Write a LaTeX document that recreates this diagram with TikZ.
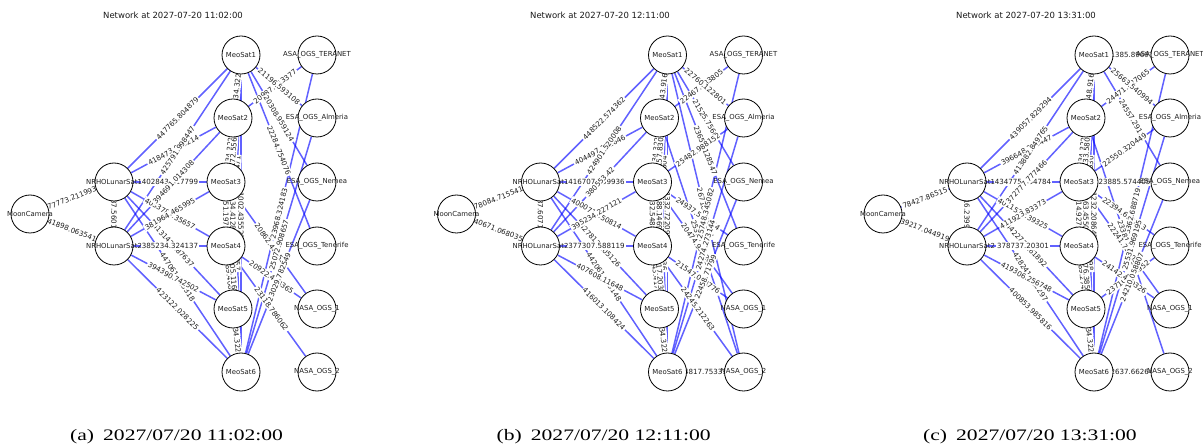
\documentclass[tikz,border=0pt]{standalone}
\usepackage{fontspec}
\setmainfont{DejaVu Sans}
\newfontfamily\capfont[FakeStretch=1.35]{Liberation Serif}
\pgfdeclarelayer{links}
\pgfdeclarelayer{tags}
\pgfsetlayers{links,tags,main}

\tikzset{
  link/.style={draw=blue, draw opacity=0.62, line width=1.5pt},
  elbl/.style={font=\fontsize{7.1}{8}\selectfont, fill=white, inner sep=1.2pt,
               text=black!88, sloped, midway},
  sat/.style={circle, draw=black, line width=0.8pt, fill=white,
              minimum size=38pt, inner sep=0pt},
  nlbl/.style={font=\fontsize{6.9}{8}\selectfont, text=black!88, inner sep=0pt},
  ttl/.style={font=\fontsize{8.5}{10}\selectfont, text=black!90},
  captxt/.style={font=\capfont\fontsize{16}{18}\selectfont, anchor=base west, inner sep=0pt},
}

% one link: the line on the bottom layer, its length label above all lines
\newcommand\lnk[3]{%
  \begin{pgfonlayer}{links}\draw[link] (\pp#1) -- (\pp#2);\end{pgfonlayer}%
  \begin{pgfonlayer}{tags}\path (\pp#1) -- (\pp#2) node[elbl] {#3};\end{pgfonlayer}}

% the fifteen nodes of one snapshot; #1 name prefix, #2 horizontal offset
\newcommand\placenodes[2]{%
  \begin{scope}[xshift=#2]
    \node[sat,label={[nlbl]center:MeoSat1}] (#1M1) at (241,55) {};
    \node[sat,label={[nlbl]center:ASA\_OGS\_TERANET}] (#1AT) at (317,55) {};
    \node[sat,label={[nlbl]center:MeoSat2}] (#1M2) at (233,118) {};
    \node[sat,label={[nlbl]center:ESA\_OGS\_Almeria}] (#1AL) at (317,118) {};
    \node[sat,label={[nlbl]center:NRHOLunarSat1}] (#1L1) at (114,182) {};
    \node[sat,label={[nlbl]center:MeoSat3}] (#1M3) at (226,182) {};
    \node[sat,label={[nlbl]center:ESA\_OGS\_Nemea}] (#1NE) at (317,182) {};
    \node[sat,label={[nlbl]center:MoonCamera}] (#1MC) at (30,214) {};
    \node[sat,label={[nlbl]center:NRHOLunarSat2}] (#1L2) at (114,246) {};
    \node[sat,label={[nlbl]center:MeoSat4}] (#1M4) at (226,246) {};
    \node[sat,label={[nlbl]center:ESA\_OGS\_Tenerife}] (#1TE) at (317,246) {};
    \node[sat,label={[nlbl]center:MeoSat5}] (#1M5) at (233,309) {};
    \node[sat,label={[nlbl]center:NASA\_OGS\_1}] (#1N1) at (317,309) {};
    \node[sat,label={[nlbl]center:MeoSat6}] (#1M6) at (241,372) {};
    \node[sat,label={[nlbl]center:NASA\_OGS\_2}] (#1N2) at (317,372) {};
  \end{scope}}

\begin{document}
\begin{tikzpicture}[x=1pt,y=-1pt]
\useasboundingbox (0,0) rectangle (1203,446);

% ---------------- snapshot (a) ----------------
\node[ttl] (ta) at (173,15.5) {Network at 2027-07-20 11:02:00};
\placenodes{a}{0}
\def\pp{a}
\lnk{MC}{L1}{77773.211993}
\lnk{MC}{L2}{41898.063541}
\lnk{L1}{L2}{4237.560118}
\lnk{L1}{M1}{447765.804879}
\lnk{L1}{M2}{418473.950214}
\lnk{L1}{M3}{402843.617799}
\lnk{L1}{M4}{403378.135657}
\lnk{L1}{M5}{413142.387637}
\lnk{L1}{M6}{447061.593318}
\lnk{L2}{M1}{425791.998447}
\lnk{L2}{M2}{394691.014308}
\lnk{L2}{M3}{381964.465995}
\lnk{L2}{M4}{385234.324137}
\lnk{L2}{M5}{394390.742502}
\lnk{L2}{M6}{423122.028225}
\lnk{M1}{M3}{24871.365203}
\lnk{M2}{M4}{24713.220915}
\lnk{M3}{M5}{24690.512744}
\lnk{M4}{M6}{24935.108326}
\lnk{M1}{M5}{38215.604471}
\lnk{M2}{M6}{38436.291857}
\lnk{M1}{M2}{26534.322418}
\lnk{M2}{M3}{26534.322418}
\lnk{M1}{M4}{46172.556022}
\lnk{M3}{M4}{26751.197245}
\lnk{M2}{M5}{40134.412877}
\lnk{M1}{M6}{41002.435529}
\lnk{M4}{M5}{26289.406511}
\lnk{M3}{M6}{40405.116873}
\lnk{M5}{M6}{26534.322418}
\lnk{AT}{M2}{20987.613377}
\lnk{M1}{AL}{21196.593108}
\lnk{M1}{NE}{20308.959124}
\lnk{M1}{TE}{22284.754076}
\lnk{AT}{M6}{23968.324183}
\lnk{M3}{N1}{20862.415530}
\lnk{AL}{M6}{25072.908657}
\lnk{M4}{N1}{20922.414365}
\lnk{NE}{M6}{23029.782549}
\lnk{M4}{N2}{23118.786062}
\node[captxt] (ca) at (70,440) {(a)\hspace{9pt}2027/07/20 11:02:00};

% ---------------- snapshot (b) ----------------
\node[ttl] (tb) at (600,15.5) {Network at 2027-07-20 12:11:00};
\placenodes{b}{426.5}
\def\pp{b}
\lnk{MC}{L1}{78084.715541}
\lnk{MC}{L2}{40671.068035}
\lnk{L1}{L2}{2487.607134}
\lnk{L1}{M1}{448522.574362}
\lnk{L1}{M2}{404497.112646}
\lnk{L1}{M3}{416707.259936}
\lnk{L1}{M4}{400071.150814}
\lnk{L1}{M5}{427812.305126}
\lnk{L1}{M6}{442061.379148}
\lnk{L2}{M1}{424901.520008}
\lnk{L2}{M2}{380553.42}
\lnk{L2}{M3}{395234.227121}
\lnk{L2}{M4}{377307.588119}
\lnk{L2}{M5}{407608.11648}
\lnk{L2}{M6}{416013.108424}
\lnk{M1}{M3}{24902.118374}
\lnk{M2}{M4}{24766.530198}
\lnk{M3}{M5}{24611.847205}
\lnk{M4}{M6}{24981.063412}
\lnk{M1}{M5}{38290.771604}
\lnk{M2}{M6}{38517.402936}
\lnk{M1}{M2}{27143.916302}
\lnk{M2}{M3}{26534.322418}
\lnk{M1}{M4}{46157.830260}
\lnk{M3}{M4}{29732.548813}
\lnk{M2}{M5}{40288.146902}
\lnk{M1}{M6}{41332.722091}
\lnk{M4}{M5}{26543.417730}
\lnk{M3}{M6}{40117.203355}
\lnk{M5}{M6}{26534.322418}
\lnk{M1}{N2}{26718.440391}
\lnk{M2}{N2}{25306.871524}
\lnk{AT}{M2}{22467.083805}
\lnk{M1}{AL}{22760.122801}
\lnk{M1}{NE}{21525.7566}
\lnk{M1}{TE}{23654.128547}
\lnk{M3}{AL}{25482.988152}
\lnk{M3}{TE}{24937.510674}
\lnk{AT}{M6}{25748.345082}
\lnk{M3}{N1}{20474.931205}
\lnk{AL}{M6}{24274.273144}
\lnk{M4}{N1}{21547.024776}
\lnk{NE}{M6}{22458.71799}
\lnk{M4}{N2}{24245.212263}
\lnk{M6}{N2}{24817.753312}
\node[captxt] (cb) at (496.5,440) {(b)\hspace{9pt}2027/07/20 12:11:00};

% ---------------- snapshot (c) ----------------
\node[ttl] (tc) at (1026,15.5) {Network at 2027-07-20 13:31:00};
\placenodes{c}{853}
\def\pp{c}
\lnk{MC}{L1}{78427.86515}
\lnk{MC}{L2}{39217.044919}
\lnk{L1}{L2}{4116.239907}
\lnk{L1}{M1}{439057.829294}
\lnk{L1}{M2}{396648.230447}
\lnk{L1}{M3}{434775.134784}
\lnk{L1}{M4}{401152.139325}
\lnk{L1}{M5}{442273.161892}
\lnk{L1}{M6}{428241.512297}
\lnk{L2}{M1}{413882.849765}
\lnk{L2}{M2}{372777.777466}
\lnk{L2}{M3}{411923.83373}
\lnk{L2}{M4}{378737.20301}
\lnk{L2}{M5}{419306.256748}
\lnk{L2}{M6}{400853.985816}
\lnk{M1}{M3}{24854.209137}
\lnk{M2}{M4}{24730.665810}
\lnk{M3}{M5}{24659.310482}
\lnk{M4}{M6}{24917.452063}
\lnk{M1}{M5}{38244.816530}
\lnk{M2}{M6}{38471.035298}
\lnk{M1}{M2}{27148.916302}
\lnk{M2}{M3}{26534.322418}
\lnk{M1}{M4}{46133.580724}
\lnk{M3}{M4}{26914.927503}
\lnk{M2}{M5}{40263.455018}
\lnk{M1}{M6}{41232.208645}
\lnk{M4}{M5}{25189.274412}
\lnk{M3}{M6}{40176.385920}
\lnk{M5}{M6}{26534.322418}
\lnk{M1}{AT}{21385.896913}
\lnk{AT}{M2}{24471.327065}
\lnk{M1}{AL}{25663.540994}
\lnk{M1}{NE}{24557.2911}
\lnk{M3}{AL}{22550.320449}
\lnk{M3}{NE}{23885.574405}
\lnk{M3}{TE}{22394.658243}
\lnk{AT}{M6}{23362.688719}
\lnk{M2}{N2}{23381.502617}
\lnk{M3}{N1}{22241.736058}
\lnk{AL}{M6}{25531.969195}
\lnk{TE}{M5}{23716.440952}
\lnk{M4}{N1}{24142.419326}
\lnk{NE}{M6}{24210.058807}
\lnk{M6}{N2}{22637.662641}
\node[captxt] (cc) at (923,440) {(c)\hspace{9pt}2027/07/20 13:31:00};
\end{tikzpicture}
\end{document}
